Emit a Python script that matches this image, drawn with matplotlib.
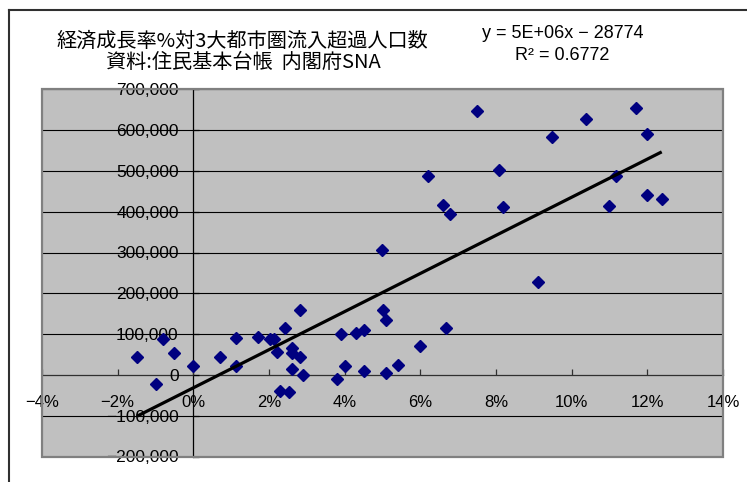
import numpy as np
import matplotlib
matplotlib.use("Agg")
import matplotlib.pyplot as plt
from matplotlib.patches import Rectangle
from matplotlib.lines import Line2D
from matplotlib.ticker import FixedLocator, FuncFormatter

# ---- data (growth rate %, net inflow persons) ----
growth_pct = [-1.49, -0.99, -0.79, -0.50, 0.00, 0.70, 1.12, 1.12, 1.70, 2.02,
              2.12, 2.21, 2.41, 2.30, 2.53, 2.61, 2.61, 2.61, 2.81, 2.81,
              2.90, 3.81, 3.90, 4.01, 4.29, 4.52, 4.52, 5.01, 5.10, 5.10,
              5.40, 5.98, 7.50, 11.69, 10.38, 11.99, 9.48, 8.09, 6.19, 11.17,
              11.99, 12.38, 6.60, 10.98, 8.18, 6.79, 4.99, 9.10, 6.68]
net_inflow = [45000, -22000, 88000, 53000, 21000, 45000, 90000, 23000, 92000, 88000,
              87000, 57000, 115000, -40000, -42000, 66000, 53000, 15000, 158000, 45000,
              0, -11000, 100000, 21000, 103000, 111000, 10000, 159000, 135000, 5000,
              25000, 72000, 648000, 653000, 626000, 591000, 582000, 501000, 487000, 487000,
              442000, 431000, 416000, 415000, 411000, 395000, 307000, 228000, 115000]

x_ticks = [-4, -2, 0, 2, 4, 6, 8, 10, 12, 14]
y_ticks = [-200000, -100000, 0, 100000, 200000, 300000, 400000, 500000, 600000, 700000]

title_line1 = "経済成長率%対3大都市圏流入超過人口数"
title_line2 = "資料:住民基本台帳  内閣府SNA"
eq_text = "y = 5E+06x − 28774"
r2_text = "R² = 0.6772"

W, H = 747, 482
fig = plt.figure(figsize=(W / 100, H / 100), dpi=100)
fig.patch.set_facecolor("white")

left, right, top, bottom = 42, 723, 89.3, 456.5
ax = fig.add_axes([left / W, 1 - bottom / H, (right - left) / W, (bottom - top) / H])
ax.set_facecolor("#C0C0C0")
ax.set_xlim(-4, 14)
ax.set_ylim(-200000, 700000)

# grid
ax.yaxis.set_major_locator(FixedLocator(y_ticks))
ax.xaxis.set_major_locator(FixedLocator(x_ticks))
for v in y_ticks:
    if v != 0:
        ax.axhline(v, color="black", lw=0.8, zorder=1)

# spines through origin
for s in ["top", "right"]:
    ax.spines[s].set_visible(False)
ax.spines["left"].set_position(("data", 0))
ax.spines["bottom"].set_position(("data", 0))
ax.spines["left"].set_color("black")
ax.spines["left"].set_linewidth(0.9)
ax.spines["bottom"].set_color("#303030")
ax.spines["bottom"].set_linewidth(0.9)
ax.spines["left"].set_zorder(1.5)
ax.spines["bottom"].set_zorder(1.5)

# plot area border
ax.add_patch(Rectangle((0, 0), 1, 1, transform=ax.transAxes, fill=False,
                       edgecolor="#808080", lw=1.6, clip_on=False, zorder=5))

tick_font = "Liberation Sans"
ax.tick_params(axis="y", direction="in", length=4.3, width=0.9, color="black",
               pad=10.5, labelsize=12.5)
ax.tick_params(axis="x", direction="in", length=4.3, width=0.9, color="#303030",
               pad=14.5, labelsize=12)
ax.yaxis.set_major_formatter(FuncFormatter(
    lambda v, p: f"{v:,.0f}".replace("-", "−")))
ax.xaxis.set_major_formatter(FuncFormatter(
    lambda v, p: f"{v:.0f}%".replace("-", "−")))
for lab in ax.get_xticklabels() + ax.get_yticklabels():
    lab.set_fontfamily(tick_font)

# scatter
ax.plot(growth_pct, net_inflow, linestyle="none", marker="D", ms=6.2,
        color="#000080", zorder=3, clip_on=False)

# linear trendline
xs = np.array(growth_pct)
ys = np.array(net_inflow)
slope, intercept = np.polyfit(xs, ys, 1)
tx = np.array([xs.min(), xs.max()])
ax.plot(tx, slope * tx + intercept, color="black", lw=2.3, zorder=4,
        solid_capstyle="butt")

# titles
cjk = ["Noto Sans CJK JP", "DejaVu Sans"]
fig.text(242 / W, 1 - 41 / H, title_line1, ha="center", va="center",
         fontsize=14.5, family=cjk)
fig.text(243 / W, 1 - 62 / H, title_line2, ha="center", va="center",
         fontsize=14.5, family=cjk)
fig.text(563 / W, 1 - 33 / H, eq_text, ha="center", va="center",
         fontsize=13, family="Liberation Sans")
fig.text(562 / W, 1 - 55 / H, r2_text, ha="center", va="center",
         fontsize=13, family="Liberation Sans")

# outer chart-area frame (top and left visible)
fig.add_artist(Line2D([8.5 / W, 1], [1 - 9.5 / H, 1 - 9.5 / H],
                      transform=fig.transFigure, color="#303030", lw=1.5))
fig.add_artist(Line2D([8.5 / W, 8.5 / W], [0, 1 - 9.5 / H],
                      transform=fig.transFigure, color="#303030", lw=1.5))

fig.savefig("out.png", dpi=100)
